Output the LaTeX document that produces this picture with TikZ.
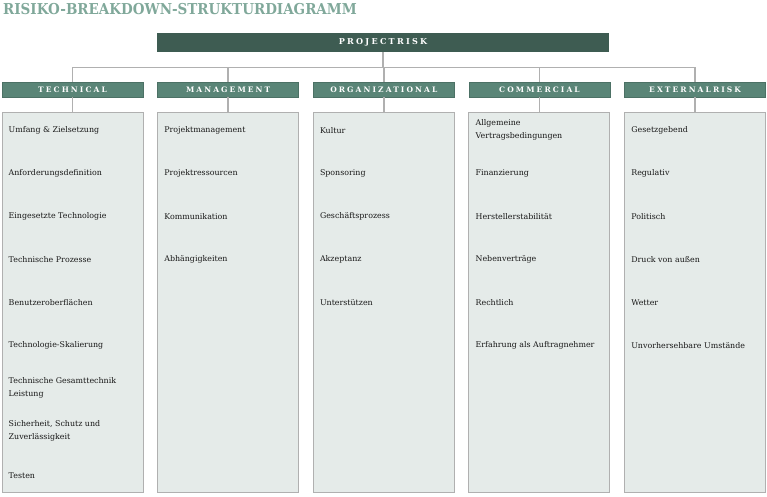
\documentclass[tikz,border=0pt]{standalone}
\usepackage{fontspec}
\setmainfont{DejaVu Serif}
\newfontfamily\spacedfont[LetterSpace=28]{DejaVu Serif}
\newfontfamily\titlefont{DejaVu Serif Condensed}
\usetikzlibrary{positioning,calc}
\definecolor{riskdark}{RGB}{62,92,82}
\definecolor{riskmid}{RGB}{90,133,119}
\definecolor{risktitle}{RGB}{128,168,154}
\definecolor{riskpale}{RGB}{229,235,233}
\definecolor{riskline}{RGB}{176,176,176}

\begin{document}
\begin{tikzpicture}[
    x=1pt, y=-1pt,
    root/.style={rectangle, fill=riskdark, minimum width=452pt, minimum height=19pt, inner sep=0pt, text=white, font=\spacedfont\bfseries\fontsize{8.1}{9}\selectfont},
    header/.style={rectangle, fill=riskmid, draw=riskmid!85!black, line width=0.4pt, minimum width=141pt, minimum height=15pt, inner sep=0pt, text=white, font=\spacedfont\bfseries\fontsize{7.5}{9}\selectfont},
    column/.style={rectangle, fill=riskpale, draw=riskline, line width=1pt, minimum width=141pt, minimum height=380pt, inner sep=0pt},
    item/.style={anchor=west, align=left, inner sep=0pt, text=black!90, font=\fontsize{7.9}{13}\selectfont},
    link/.style={draw=riskline, line width=1.4pt}
]
    \useasboundingbox (0,0) rectangle (767,496);

    % Title
    \node[anchor=west, inner sep=0pt, text=risktitle, font=\titlefont\bfseries\fontsize{15}{17}\selectfont] (title) at (3,9.5) {RISIKO-BREAKDOWN-STRUKTURDIAGRAMM};

    % Root
    \node[root] (root) at (383,42.5) {PROJECTRISK};

    % Category headers
    \node[header] (tech) at (72.5,89.5) {TECHNICAL};
    \node[header, right=14.25pt of tech] (mgmt) {MANAGEMENT};
    \node[header, right=14.25pt of mgmt] (orga) {ORGANIZATIONAL};
    \node[header, right=14.25pt of orga] (comm) {COMMERCIAL};
    \node[header, right=14.25pt of comm] (extr) {EXTERNALRISK};

    % Column boxes
    \node[column, below=15pt of tech] (techbox) {};
    \node[column, below=15pt of mgmt] (mgmtbox) {};
    \node[column, below=15pt of orga] (orgabox) {};
    \node[column, below=15pt of comm] (commbox) {};
    \node[column, below=15pt of extr] (extrbox) {};

    % Connections
    \coordinate (bus) at ($(root.south)+(0,15)$);
    \draw[link] (root.south) -- (bus);
    \draw[link] (tech.north) |- (extr.north |- bus) -- (extr.north);
    \draw[link] (mgmt.north) -- (mgmt.north |- bus);
    \draw[link] (orga.north) -- (orga.north |- bus);
    \draw[link] (comm.north) -- (comm.north |- bus);
    \draw[link] (tech) -- (techbox);
    \draw[link] (mgmt) -- (mgmtbox);
    \draw[link] (orga) -- (orgabox);
    \draw[link] (comm) -- (commbox);
    \draw[link] (extr) -- (extrbox);

    % Technical
    \node[item] (tech1) at ([xshift=7pt, yshift=-18pt]techbox.north west) {Umfang \& Zielsetzung};
    \node[item] (tech2) at ([yshift=-43pt]tech1.west) {Anforderungsdefinition};
    \node[item] (tech3) at ([yshift=-43pt]tech2.west) {Eingesetzte Technologie};
    \node[item] (tech4) at ([yshift=-43pt]tech3.west) {Technische Prozesse};
    \node[item] (tech5) at ([yshift=-43pt]tech4.west) {Benutzeroberflächen};
    \node[item] (tech6) at ([yshift=-43pt]tech5.west) {Technologie-Skalierung};
    \node[item] (tech7) at ([yshift=-43pt]tech6.west) {Technische Gesamttechnik\\Leistung};
    \node[item] (tech8) at ([yshift=-43pt]tech7.west) {Sicherheit, Schutz und\\Zuverlässigkeit};
    \node[item] (tech9) at ([yshift=-44pt]tech8.west) {Testen};

    % Management
    \node[item] (mgmt1) at ([xshift=7pt, yshift=-18pt]mgmtbox.north west) {Projektmanagement};
    \node[item] (mgmt2) at ([yshift=-43pt]mgmt1.west) {Projektressourcen};
    \node[item] (mgmt3) at ([yshift=-43pt]mgmt2.west) {Kommunikation};
    \node[item] (mgmt4) at ([yshift=-43pt]mgmt3.west) {Abhängigkeiten};

    % Organizational
    \node[item] (orga1) at ([xshift=7pt, yshift=-18pt]orgabox.north west) {Kultur};
    \node[item] (orga2) at ([yshift=-43pt]orga1.west) {Sponsoring};
    \node[item] (orga3) at ([yshift=-43pt]orga2.west) {Geschäftsprozess};
    \node[item] (orga4) at ([yshift=-43pt]orga3.west) {Akzeptanz};
    \node[item] (orga5) at ([yshift=-43pt]orga4.west) {Unterstützen};

    % Commercial
    \node[item] (comm1) at ([xshift=7pt, yshift=-18pt]commbox.north west) {Allgemeine\\Vertragsbedingungen};
    \node[item] (comm2) at ([yshift=-43pt]comm1.west) {Finanzierung};
    \node[item] (comm3) at ([yshift=-43pt]comm2.west) {Herstellerstabilität};
    \node[item] (comm4) at ([yshift=-43pt]comm3.west) {Nebenverträge};
    \node[item] (comm5) at ([yshift=-43pt]comm4.west) {Rechtlich};
    \node[item] (comm6) at ([yshift=-43pt]comm5.west) {Erfahrung als Auftragnehmer};

    % External
    \node[item] (extr1) at ([xshift=7pt, yshift=-18pt]extrbox.north west) {Gesetzgebend};
    \node[item] (extr2) at ([yshift=-43pt]extr1.west) {Regulativ};
    \node[item] (extr3) at ([yshift=-43pt]extr2.west) {Politisch};
    \node[item] (extr4) at ([yshift=-43pt]extr3.west) {Druck von außen};
    \node[item] (extr5) at ([yshift=-43pt]extr4.west) {Wetter};
    \node[item] (extr6) at ([yshift=-43pt]extr5.west) {Unvorhersehbare Umstände};
\end{tikzpicture}
\end{document}
